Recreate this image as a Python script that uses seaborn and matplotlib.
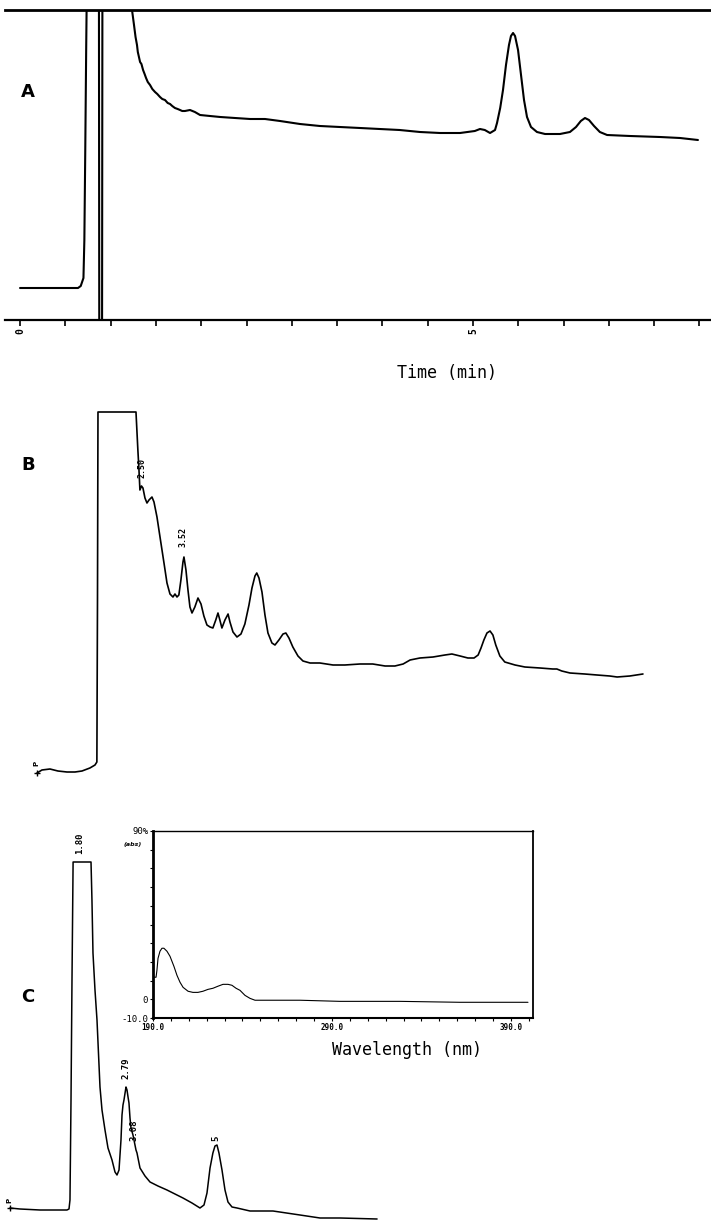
import numpy as np
import pandas as pd
import matplotlib
matplotlib.use("Agg")
import matplotlib.pyplot as plt
import seaborn as sns

# =========================================================
# DATA
# =========================================================

# Panel A : time (min) vs detector signal (arb.), off-scale parts clipped
time_a = [0.00, 0.33, 0.64, 0.67, 0.70, 0.71, 0.72, 0.73, 0.745, 0.870, 0.875,
          0.905, 0.910, 1.210, 1.236, 1.258, 1.275, 1.291, 1.300, 1.325, 1.340,
          1.358, 1.375, 1.391, 1.410, 1.435, 1.460, 1.490, 1.515, 1.545, 1.570,
          1.600, 1.630, 1.656, 1.680, 1.710, 1.740, 1.766, 1.790, 1.820, 1.876,
          1.930, 1.987, 2.097, 2.210, 2.373, 2.540, 2.704, 2.870, 3.090, 3.310,
          3.530, 3.753, 3.970, 4.190, 4.415, 4.636, 4.857, 5.020, 5.077, 5.130,
          5.188, 5.243, 5.265, 5.300, 5.331, 5.364, 5.397, 5.419, 5.442, 5.464,
          5.497, 5.530, 5.563, 5.596, 5.640, 5.706, 5.795, 5.960, 6.070, 6.137,
          6.190, 6.236, 6.280, 6.336, 6.400, 6.480, 6.733, 7.064, 7.285, 7.483]
signal_a = [32, 32, 32, 34, 42, 80, 170, 270, 400, 400, -50,
            -50, 400, 330, 310, 295, 283, 275, 268, 258, 256,
            250, 246, 242, 238, 235, 231, 228, 226, 223, 221,
            220, 217, 216, 214, 212, 211, 210, 209, 209, 210,
            208, 205, 204, 203, 202, 201, 201, 199, 196, 194,
            193, 192, 191, 190, 188, 187, 187, 189, 191, 190,
            187, 190, 197, 212, 230, 255, 275, 284, 287, 284,
            270, 245, 220, 203, 193, 188, 186, 186, 188, 193,
            199, 202, 200, 194, 188, 185, 184, 183, 182, 180]
ticks_a = [0.0, 0.5, 1.0, 1.5, 2.0, 2.5, 3.0, 3.5, 4.0, 4.5, 5.0, 5.5, 6.0, 6.5, 7.0, 7.5]
ticklabels_a = ['0', '', '', '', '', '', '', '', '', '', '5', '', '', '', '', '']

# Panel B
time_b = [-0.06, 0.06, 0.256, 0.45, 0.67, 0.866, 1.037, 1.23, 1.354, 1.40, 1.415,
          1.427, 2.354, 2.40, 2.427, 2.45, 2.488, 2.524, 2.573, 2.622, 2.671,
          2.744, 2.793, 2.866, 2.94, 3.037, 3.11, 3.183, 3.256, 3.305, 3.354,
          3.40, 3.45, 3.50, 3.524, 3.573, 3.622, 3.67, 3.72, 3.79, 3.866,
          3.94, 4.01, 4.085, 4.16, 4.23, 4.30, 4.354, 4.40, 4.45, 4.524,
          4.60, 4.646, 4.72, 4.817, 4.915, 5.01, 5.11, 5.183, 5.256, 5.30,
          5.354, 5.427, 5.50, 5.573, 5.67, 5.744, 5.84, 5.94, 6.01, 6.085,
          6.18, 6.305, 6.427, 6.60, 6.84, 7.16, 7.45, 7.817, 8.13, 8.43,
          8.67, 8.87, 9.04, 9.28, 9.60, 9.89, 10.06, 10.26, 10.45, 10.60,
          10.70, 10.77, 10.84, 10.915, 10.99, 11.06, 11.13, 11.23, 11.35, 11.60,
          11.84, 12.21, 12.52, 12.62, 12.74, 12.94, 13.30, 13.60, 13.91, 14.09,
          14.40, 14.72]
signal_b = [17, 20, 21, 19, 18, 18, 19, 22, 25, 28, 190,
            378, 378, 340, 320, 300, 304, 302, 292, 287, 290,
            293, 288, 273, 253, 227, 207, 196, 193, 196, 193,
            195, 210, 228, 233, 220, 200, 183, 177, 183, 192,
            186, 174, 165, 163, 162, 170, 177, 170, 162, 170,
            176, 168, 158, 153, 156, 166, 185, 202, 214, 217,
            212, 198, 175, 157, 147, 145, 150, 156, 157, 152,
            143, 134, 129, 127, 127, 125, 125, 126, 126, 124,
            124, 126, 130, 132, 133, 135, 136, 134, 132, 132,
            135, 142, 150, 157, 159, 155, 145, 134, 128, 125,
            123, 122, 121, 121, 119, 117, 116, 115, 114, 113,
            114, 116]
peaks_b = ['2.50', '3.52']
peak_time_b = [2.50, 3.50]
peak_y_b = [322, 253]

# Panel C
time_c = [-0.04, 0.205, 0.693, 1.06, 1.35, 1.40, 1.424, 1.449, 1.473, 1.50, 1.937,
          1.96, 1.985, 2.034, 2.083, 2.156, 2.205, 2.278, 2.351, 2.449, 2.522,
          2.571, 2.62, 2.668, 2.693, 2.717, 2.741, 2.79, 2.815, 2.84, 2.863,
          2.888, 2.912, 2.961, 2.985, 3.034, 3.059, 3.083, 3.132, 3.254, 3.376,
          3.57, 3.79, 3.985, 4.18, 4.40, 4.595, 4.693, 4.766, 4.84, 4.91,
          4.961, 5.01, 5.058, 5.132, 5.205, 5.278, 5.376, 5.498, 5.815, 6.376,
          7.034, 7.522, 8.01, 8.915]
signal_c = [14, 13, 12, 12, 12, 13, 22, 122, 242, 360, 360,
            322, 269, 232, 202, 135, 112, 92, 74, 62, 50,
            47, 52, 82, 107, 117, 122, 135, 132, 125, 119,
            104, 94, 87, 82, 72, 69, 64, 54, 46, 40,
            36, 32, 28, 24, 19, 14, 17, 29, 54, 69,
            76, 77, 69, 52, 32, 20, 15, 14, 11, 11,
            7, 4, 4, 3]
peaks_c = ['1.80', '2.79', '3.08', '5']
peak_time_c = [1.67, 2.79, 2.98, 4.99]
peak_y_c = [379, 154, 92, 84]

# Inset : UV spectrum of peak
wavelength = [190.0, 191.7, 192.2, 192.8, 193.9, 195.0, 196.1, 197.8, 199.5, 201.7,
              203.4, 205.1, 206.8, 209.6, 212.3, 215.1, 217.9, 220.7, 223.5, 226.3,
              229.1, 231.9, 234.1, 236.4, 238.6, 241.4, 244.2, 247.0, 249.8, 272.1,
              294.5, 328.0, 361.5, 399.5]
absorbance = [11.8, 11.8, 15.5, 21.9, 25.7, 27.3, 27.3, 25.7, 23.0, 17.6,
              12.8, 9.1, 6.4, 4.3, 3.7, 3.7, 4.3, 5.3, 5.9, 7.0,
              8.0, 8.0, 7.5, 5.9, 4.8, 2.1, 0.5, -0.5, -0.5, -0.5,
              -1.1, -1.1, -1.6, -1.6]
wl_ticks = [190, 200, 210, 220, 230, 240, 250, 260, 270, 280, 290, 300, 310,
            320, 330, 340, 350, 360, 370, 380, 390, 400]
wl_labels = ['190.0', '', '', '', '', '', '', '', '', '', '290.0', '', '', '', '', '',
             '', '', '', '', '390.0', '']

# =========================================================
# FIGURE
# =========================================================

sns.set_style("white")
plt.rcParams['font.family'] = ['DejaVu Sans']
plt.rcParams['text.color'] = 'black'
plt.rcParams['axes.edgecolor'] = 'black'
plt.rcParams['xtick.color'] = 'black'
plt.rcParams['ytick.color'] = 'black'
plt.rcParams['axes.labelcolor'] = 'black'
mono = 'DejaVu Sans Mono'

W, H = 711, 1222
fig = plt.figure(figsize=(W / 100, H / 100), dpi=100)


def box(x0, x1, y0, y1):
    return [x0 / W, 1 - y1 / H, (x1 - x0) / W, (y1 - y0) / H]


# ---------------- panel A ----------------
axA = fig.add_axes(box(5, 711, 10, 320))
sns.lineplot(x=time_a, y=signal_a, sort=False, estimator=None,
             color='black', linewidth=1.5, ax=axA)
axA.set_xlim(-0.166, 7.627)
axA.set_ylim(0, 310)
for s in ['left', 'right']:
    axA.spines[s].set_visible(False)
axA.spines['top'].set_linewidth(2.0)
axA.spines['bottom'].set_linewidth(1.6)
axA.set_yticks([])
axA.set_xticks(ticks_a)
axA.set_xticklabels(ticklabels_a, rotation=90, fontsize=7,
                    fontweight='bold', family=mono)
axA.tick_params(axis='x', direction='out', length=4, width=1.2, pad=2, bottom=True)
axA.text(0.09, 228, 'A', fontsize=13, fontweight='bold', ha='center', va='center')
axA.text(4.71, -53, 'Time (min)', family=mono, fontsize=12,
         ha='center', va='center', clip_on=False)

# ---------------- panel B ----------------
axB = fig.add_axes(box(0, 711, 400, 790))
sns.lineplot(x=time_b, y=signal_b, sort=False, estimator=None,
             color='black', linewidth=1.2, ax=axB)
axB.set_xlim(-0.963, 16.38)
axB.set_ylim(0, 390)
axB.axis('off')
axB.text(-0.28, 325, 'B', fontsize=13, fontweight='bold', ha='center', va='center')
for lab, t, y in zip(peaks_b, peak_time_b, peak_y_b):
    axB.text(t, y, lab, rotation=90, family=mono, fontsize=6, fontweight='bold',
             ha='center', va='center')
axB.text(-0.08, 27, 'P', rotation=90, fontsize=5, fontweight='bold',
         ha='center', va='center')
axB.plot([-0.06], [17], marker='+', color='black', markersize=5)

# ---------------- panel C ----------------
axC = fig.add_axes(box(0, 711, 840, 1222))
sns.lineplot(x=time_c, y=signal_c, sort=False, estimator=None,
             color='black', linewidth=1.1, ax=axC)
axC.set_xlim(-0.283, 17.06)
axC.set_ylim(0, 382)
axC.axis('off')
axC.text(0.4, 225, 'C', fontsize=13, fontweight='bold', ha='center', va='center')
for lab, t, y in zip(peaks_c, peak_time_c, peak_y_c):
    axC.text(t, y, lab, rotation=90, family=mono, fontsize=6.5, fontweight='bold',
             ha='center', va='center', clip_on=False)
axC.text(-0.06, 22, 'P', rotation=90, fontsize=5, fontweight='bold',
         ha='center', va='center')
axC.plot([-0.04], [14], marker='+', color='black', markersize=5)

# ---------------- inset spectrum ----------------
axI = fig.add_axes(box(153, 533, 831, 1018))
sns.lineplot(x=wavelength, y=absorbance, sort=False, estimator=None,
             color='black', linewidth=0.8, ax=axI)
axI.set_xlim(190, 402.3)
axI.set_ylim(-10, 90)
axI.set_xticks(wl_ticks)
axI.set_xticklabels(wl_labels, family=mono, fontsize=5.5, fontweight='bold')
axI.set_yticks([-10, 0, 10, 20, 30, 40, 50, 60, 70, 80, 90])
axI.set_yticklabels(['-10.0', '0', '', '', '', '', '', '', '', '', '90%'],
                    family=mono, fontsize=6.5)
axI.tick_params(direction='out', length=2.5, width=0.8, pad=1,
                bottom=True, left=True)
axI.spines['left'].set_linewidth(2.0)
axI.spines['bottom'].set_linewidth(1.5)
axI.spines['right'].set_linewidth(1.3)
axI.spines['top'].set_linewidth(1.0)
for s in axI.spines.values():
    s.set_color('black')
axI.text(-0.03, 0.93, '(abs)', transform=axI.transAxes, fontsize=4.5,
         fontstyle='italic', fontweight='bold', ha='right', va='center')
axI.text(331.9, -27.3, 'Wavelength (nm)', family=mono, fontsize=12,
         ha='center', va='center', clip_on=False)

fig.savefig('out.png', dpi=100)
